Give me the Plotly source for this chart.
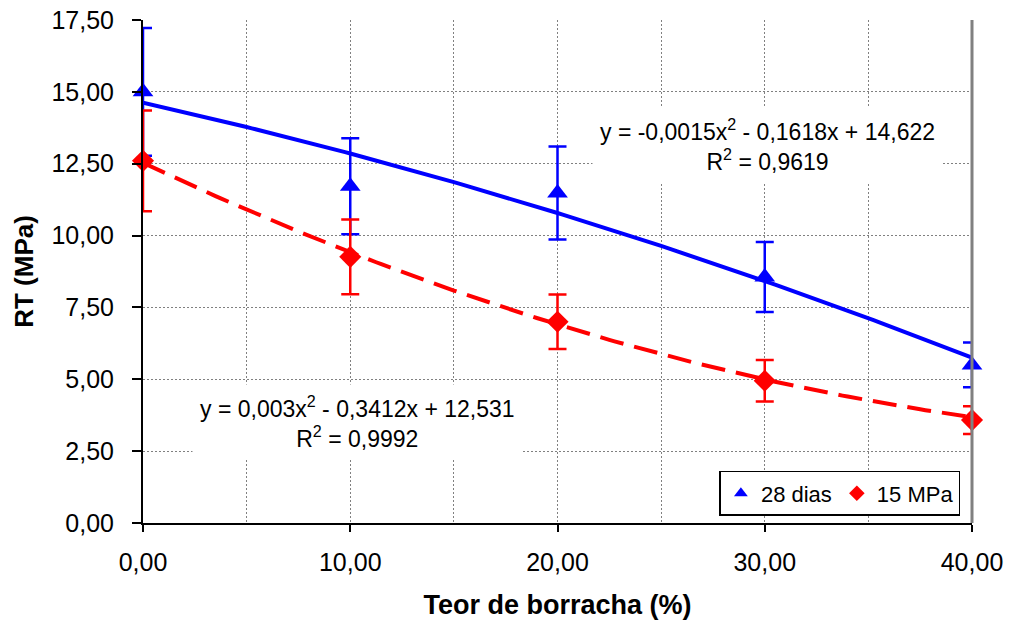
import plotly.graph_objects as go
import numpy as np

# Data
teor = [0, 10, 20, 30, 40]
rt_28dias = [15.00, 11.72, 11.48, 8.56, 5.50]
err_28dias = [2.22, 1.67, 1.62, 1.22, 0.78]
rt_15mpa = [12.60, 9.26, 7.00, 4.95, 3.58]
err_15mpa = [1.75, 1.30, 0.95, 0.72, 0.48]

# Trendline coefficients (as displayed on chart): a*x^2 + b*x + c
coef_28dias = [-0.0015, -0.1618, 14.622]
coef_15mpa = [0.003, -0.3412, 12.531]

blue = "#0000FF"
red = "#FF0000"
FONT = "Liberation Sans, Arial, sans-serif"

xt = np.linspace(0, 40, 161)
yt_blue = np.polyval(coef_28dias, xt)
yt_red = np.polyval(coef_15mpa, xt)

fig = go.Figure()

fig.add_trace(go.Scatter(x=xt, y=yt_red, mode="lines",
                         line=dict(color=red, width=4, dash="24px,11px"),
                         showlegend=False, hoverinfo="skip"))
fig.add_trace(go.Scatter(x=xt, y=yt_blue, mode="lines",
                         line=dict(color=blue, width=4),
                         showlegend=False, hoverinfo="skip"))

fig.add_trace(go.Scatter(
    x=teor, y=rt_28dias, mode="markers", name="28 dias",
    marker=dict(symbol="triangle-up", size=18, color=blue),
    error_y=dict(type="data", array=err_28dias, color=blue, thickness=2.5, width=9),
    cliponaxis=False))
fig.add_trace(go.Scatter(
    x=teor, y=rt_15mpa, mode="markers", name="15 MPa",
    marker=dict(symbol="diamond", size=17, color=red),
    error_y=dict(type="data", array=err_15mpa, color=red, thickness=2.5, width=9),
    cliponaxis=False))

fig.update_layout(
    width=1010, height=628,
    margin=dict(l=143, r=38, t=20, b=105, autoexpand=False),
    paper_bgcolor="white", plot_bgcolor="white",
    separators=",.",
    font=dict(family=FONT, size=20, color="black"),
    showlegend=True,
    legend=dict(orientation="h", x=0.986, xanchor="right", y=0.014, yanchor="bottom",
                bgcolor="white", bordercolor="black", borderwidth=1.5,
                font=dict(size=22), itemwidth=30, tracegroupgap=0,
                itemsizing="constant"),
    xaxis=dict(range=[0, 40], dtick=10, tick0=0, tickformat=".2f", automargin=False,
               showgrid=True, gridcolor="#808080", griddash="2px,2px", gridwidth=1,
               minor=dict(dtick=5, showgrid=True, gridcolor="#808080", griddash="2px,2px", gridwidth=1),
               showline=True, linecolor="black", linewidth=2,
               ticks="outside", ticklen=7, tickwidth=2, tickcolor="black",
               ticklabelstandoff=9,
               zeroline=False,
               title=dict(text="<b>Teor de borracha (%)</b>", font=dict(size=27), standoff=20),
               tickfont=dict(size=25)),
    yaxis=dict(range=[0, 17.5], dtick=2.5, tick0=0, tickformat=".2f", automargin=False,
               showgrid=True, gridcolor="#808080", griddash="2px,2px", gridwidth=1,
               showline=True, linecolor="black", linewidth=2,
               ticks="outside", ticklen=9, tickwidth=2, tickcolor="black",
               ticklabelstandoff=13,
               zeroline=False,
               title=dict(text="<b>RT (MPa)</b>", font=dict(size=26), standoff=10),
               tickfont=dict(size=25)),
)

# plot area right border
fig.add_shape(type="line", xref="paper", yref="paper", x0=1, x1=1, y0=0, y1=1,
              line=dict(color="#808080", width=3))

fig.add_annotation(x=30.15, y=13.15, xref="x", yref="y", showarrow=False,
                   text="y = -0,0015x<sup>2</sup> - 0,1618x + 14,622<br>R<sup>2</sup> = 0,9619",
                   align="center", bgcolor="white", borderpad=7,
                   font=dict(size=23, color="black"))
fig.add_annotation(x=10.35, y=3.5, xref="x", yref="y", showarrow=False,
                   text="y = 0,003x<sup>2</sup> - 0,3412x + 12,531<br>R<sup>2</sup> = 0,9992",
                   align="center", bgcolor="white", borderpad=7,
                   font=dict(size=23, color="black"))

fig.write_html("out.html")
